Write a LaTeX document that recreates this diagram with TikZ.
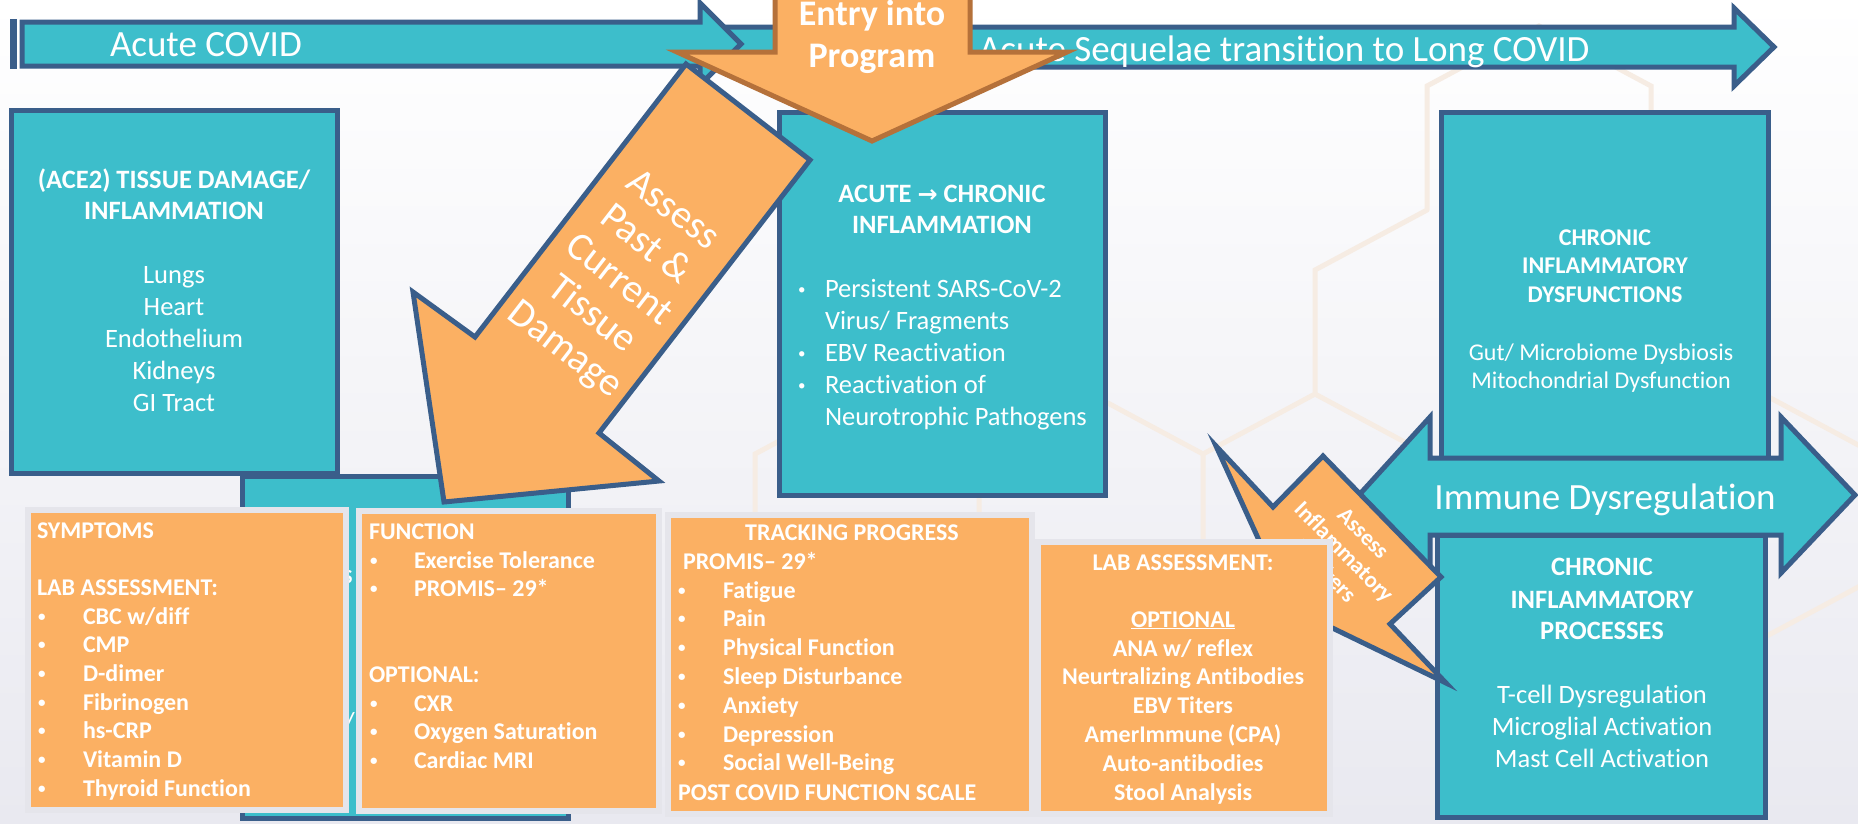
\documentclass[tikz,border=0pt]{standalone}
\usepackage{fontspec}
\setmainfont{Carlito}[Ligatures=NoCommon]
\newfontfamily\arrowfont{DejaVu Sans}
\definecolor{tealfill}{RGB}{61,190,203}
\definecolor{navyline}{RGB}{58,94,138}
\definecolor{orangefill}{RGB}{251,176,99}
\definecolor{brownline}{RGB}{181,113,58}
\definecolor{framegray}{RGB}{229,229,235}
\definecolor{hexline}{RGB}{246,236,227}
\definecolor{bgbottom}{RGB}{233,233,240}
\newcommand\fsz[2]{\fontsize{#1}{#2}\selectfont}
% small list bullet
\newcommand\bul{\raisebox{3pt}{\fontsize{15}{15}\selectfont •}}

\begin{document}
\begin{tikzpicture}[x=1pt,y=-1pt,line join=miter,
  tealshape/.style={draw=navyline,fill=tealfill,line width=5pt},
  orangeshape/.style={draw=navyline,fill=orangefill,line width=5pt},
  entryshape/.style={draw=brownline,fill=orangefill,line width=5pt},
  cardshape/.style={draw=framegray,fill=orangefill,line width=6pt},
  hexstroke/.style={draw=hexline,line width=5pt,line cap=round},
  rectbox/.style n args={4}{rectangle,inner sep=0pt,outer sep=0pt,anchor=north west,
    minimum width={(#3)-(#1)},minimum height={(#4)-(#2)},at={(#1,#2)}},
  txt/.style={text=white,inner sep=0pt,outer sep=0pt},
  big/.style={txt,font=\fsz{37}{44}},
  ttl/.style={txt,font=\fsz{26.5}{32}\bfseries,anchor=base},
  bdy/.style={txt,font=\fsz{26.5}{32},anchor=base},
  ttls/.style={txt,font=\fsz{24}{29}\bfseries,anchor=base},
  bdys/.style={txt,font=\fsz{24}{29},anchor=base},
  card/.style={txt,font=\fsz{24}{29}\bfseries,anchor=base west},
  cardc/.style={txt,font=\fsz{24}{29}\bfseries,anchor=base}
]
\useasboundingbox (0,0) rectangle (1858,823);
% page background
\shade[top color=white,bottom color=bgbottom] (0,0) rectangle (1858,823);

% faint honeycomb motif
\draw[hexstroke] (1427,210) -- (1427,86) -- (1539,26) -- (1651,86) -- (1651,120)
  (1427,210) -- (1315,270) -- (1315,394) -- (1203,454) -- (1203,580)
  (1315,394) -- (1427,454)
  (1203,454) -- (1091,394)
  (867,394) -- (755,454) -- (755,580)
  (979,454) -- (979,580)
  (1763,394) -- (1875,454)
  (1763,638) -- (1875,578);

% timeline arrows
\draw[tealshape] (704,27) -- (1734,27) -- (1734,8) -- (1774,47) -- (1734,86) -- (1734,67) -- (704,67) -- cycle;
\draw[tealshape] (22,22) -- (700,22) -- (700,3) -- (741,44) -- (700,85) -- (700,66) -- (22,66) -- cycle;
\fill[navyline] (10,19) rectangle (17,69);
\node[big,anchor=base west] (acute) at (110,56) {Acute COVID};
\node[big,anchor=base west] (sequelae) at (979,61) {Acute Sequelae transition to Long COVID};

% box behind the assessment cards
\node[tealshape,rectbox={242.5}{476}{568}{818}] (hiddenbox) {};
\node[txt,font=\fsz{20}{24}\bfseries,anchor=base west] (glyphS) at (343,583) {S};
\node[txt,font=\fsz{20}{24}\bfseries,anchor=base west] (glyphF) at (340,612) {F};
\node[txt,font=\fsz{20}{24}\bfseries,anchor=base west] (glyphSl) at (346,726) {/};

% tissue damage box
\node[tealshape,rectbox={11.5}{110.5}{337.5}{473.5}] (tissuebox) {};
\node[ttl] (tt1) at (174,188) {(ACE2) TISSUE DAMAGE/};
\node[ttl] (tt2) at (174,219) {INFLAMMATION};
\foreach \t [count=\i from 0] in {Lungs,Heart,Endothelium,Kidneys,GI Tract}
  \node[bdy] (organ\i) at (174,{283+32*\i}) {\t};

% acute to chronic box
\node[tealshape,rectbox={779.5}{112.5}{1105.5}{495.5}] (acutebox) {};
\node[ttl] (at1) at (942,202) {ACUTE {\arrowfont\bfseries\fontsize{24}{29}\selectfont →} CHRONIC};
\node[ttl] (at2) at (942,233) {INFLAMMATION};
\node[bdy,anchor=base west] (ab1) at (798,297) {\bul};
\node[bdy,anchor=base west] (ai1) at (825,297) {Persistent SARS-CoV-2};
\node[bdy,anchor=base west] (ai2) at (825,329) {Virus/ Fragments};
\node[bdy,anchor=base west] (ab3) at (798,361) {\bul};
\node[bdy,anchor=base west] (ai3) at (825,361) {EBV Reactivation};
\node[bdy,anchor=base west] (ab4) at (798,393) {\bul};
\node[bdy,anchor=base west] (ai4) at (825,393) {Reactivation of};
\node[bdy,anchor=base west] (ai5) at (825,425) {Neurotrophic Pathogens};

% assess past & current tissue damage arrow
\draw[orangeshape] (686,64) -- (810,160) -- (599,433) -- (659,481) -- (444,502) -- (413,292) -- (475,337) -- cycle;
\node[txt,font=\fsz{40}{44},align=center,rotate=-37.7] (assesstissue) at (618,281)
  {Assess\\Past \&\\Current\\Tissue\\Damage};

% entry into program arrow
\draw[entryshape] (775,-10) -- (775,52) -- (677,52) -- (872,141) -- (1067,52) -- (970,52) -- (970,-10) -- cycle;
\node[txt,font=\fsz{36}{43}\bfseries,anchor=base] (entry1) at (872,25) {Entry into};
\node[txt,font=\fsz{36}{43}\bfseries,anchor=base] (entry2) at (872,67) {Program};

% chronic inflammatory dysfunctions
\node[tealshape,rectbox={1441.5}{112.5}{1768.5}{470}] (dysbox) {};
\node[ttls] (dt1) at (1605,245) {CHRONIC};
\node[ttls] (dt2) at (1605,273) {INFLAMMATORY};
\node[ttls] (dt3) at (1605,302) {DYSFUNCTIONS};
\node[bdys] (di1) at (1601,360) {Gut/ Microbiome Dysbiosis};
\node[bdys] (di2) at (1601,388) {Mitochondrial Dysfunction};

% immune dysregulation double arrow
\draw[tealshape] (1430,458) -- (1781,458) -- (1781,417) -- (1855,495) -- (1781,573) -- (1781,535)
  -- (1430,535) -- (1430,573) -- (1359,495) -- (1430,417) -- cycle;
\node[big,anchor=base] (immune) at (1605,509) {Immune Dysregulation};

% chronic inflammatory processes
\node[tealshape,rectbox={1437.5}{535}{1765.5}{817.5}] (procbox) {};
\node[ttl] (pt1) at (1602,575) {CHRONIC};
\node[ttl] (pt2) at (1602,608) {INFLAMMATORY};
\node[ttl] (pt3) at (1602,639) {PROCESSES};
\foreach \t [count=\i from 0] in {T-cell Dysregulation,Microglial Activation,Mast Cell Activation}
  \node[bdy] (proc\i) at (1602,{703+32*\i}) {\t};

% assess inflammatory markers arrow
\draw[orangeshape] (1216,446) -- (1273,507) -- (1323,456) -- (1441,577) -- (1390,624) -- (1446,683)
  -- (1320,622) -- (1268,560) -- cycle;
\node[txt,font=\fsz{23}{27}\bfseries,align=center,rotate=-45.5] (assessinfl) at (1344,552)
  {Assess\\Inflammatory\\Markers};

% symptoms / lab card
\node[cardshape,rectbox={28}{510}{346}{810}] (symcard) {};
\node[card] (s0) at (37,538) {SYMPTOMS};
\node[card] (s1) at (37,595) {LAB ASSESSMENT:};
\foreach \t [count=\i from 0] in {CBC w/diff,CMP,D-dimer,Fibrinogen,hs-CRP,Vitamin D,Thyroid Function}{
  \node[card] (sb\i) at (38,{624+28.7*\i}) {\bul};
  \node[card] (si\i) at (83,{624+28.7*\i}) {\t};
}

% function card
\node[cardshape,rectbox={359}{511}{659}{811}] (funccard) {};
\node[card] (f0) at (369,539) {FUNCTION};
\node[card] (fb1) at (370,568) {\bul};
\node[card] (fi1) at (414,568) {Exercise Tolerance};
\node[card] (fb2) at (370,596) {\bul};
\node[card] (fi2) at (414,596) {PROMIS– 29*};
\node[card] (f1) at (369,682) {OPTIONAL:};
\foreach \t [count=\i from 0] in {CXR,Oxygen Saturation,Cardiac MRI}{
  \node[card] (ob\i) at (370,{711+28.7*\i}) {\bul};
  \node[card] (oi\i) at (414,{711+28.7*\i}) {\t};
}

% tracking progress card
\node[cardshape,rectbox={668}{515}{1032}{814}] (trackcard) {};
\node[cardc] (tr0) at (852,540) {TRACKING PROGRESS};
\node[card] (tr1) at (683,569) {PROMIS– 29*};
\foreach \t [count=\i from 0] in {Fatigue,Pain,Physical Function,Sleep Disturbance,Anxiety,Depression,Social Well-Being}{
  \node[card] (tb\i) at (678,{598+28.8*\i}) {\bul};
  \node[card] (ti\i) at (723,{598+28.8*\i}) {\t};
}
\node[card] (tr2) at (678,800) {POST COVID FUNCTION SCALE};

% lab assessment card
\node[cardshape,rectbox={1038}{542}{1330}{814}] (labcard) {};
\node[cardc] (l0) at (1183,570) {LAB ASSESSMENT:};
\node[cardc] (l1) at (1183,627) {\underline{OPTIONAL}};
\foreach \t [count=\i from 0] in {ANA w/ reflex,Neurtralizing Antibodies,EBV Titers,AmerImmune (CPA),Auto-antibodies,Stool Analysis}
  \node[cardc] (li\i) at (1183,{656+28.8*\i}) {\t};
\end{tikzpicture}
\end{document}
